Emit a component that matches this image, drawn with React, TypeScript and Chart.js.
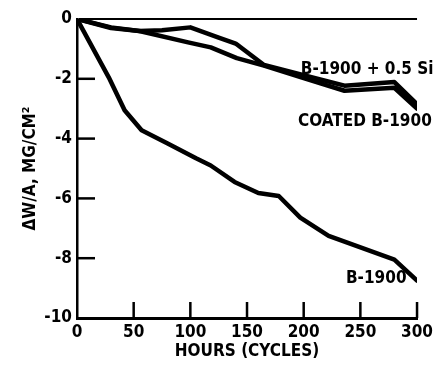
import React, { useEffect, useRef } from "react";
import { Chart, registerables } from "chart.js";

Chart.register(...registerables);

// Data (hours, delta W/A in mg/cm^2)
const siHours = [0, 30, 55, 75, 100, 125, 140, 165, 200, 236, 280, 300];
const siValues = [0, -0.28, -0.4, -0.38, -0.28, -0.62, -0.82, -1.54, -1.88, -2.23, -2.11, -2.85];

const coatedHours = [0, 30, 55, 98, 118, 141, 165, 200, 236, 280, 300];
const coatedValues = [0, -0.3, -0.4, -0.78, -0.95, -1.31, -1.56, -1.98, -2.4, -2.3, -3.0];

const baseHours = [0, 28, 42, 57, 80, 105, 118, 139, 160, 178, 197, 222, 280, 300];
const baseValues = [0, -1.95, -3.05, -3.72, -4.16, -4.66, -4.9, -5.45, -5.82, -5.92, -6.64, -7.25, -8.05, -8.75];

const xTicks = [0, 50, 100, 150, 200, 250, 300];
const yTicks = [0, -2, -4, -6, -8, -10];

const seriesNames = ["B-1900 + 0.5 Si", "COATED B-1900", "B-1900"];
const labelX = [256, 254, 264];
const labelY = [-1.68, -3.42, -8.69];

const FONT = "'Liberation Sans Narrow', 'DejaVu Sans Condensed', 'Arial Narrow', sans-serif";

const toPoints = (xs: number[], ys: number[]) => xs.map((x, i) => ({ x, y: ys[i] }));

const innerTicksPlugin = {
  id: "innerTicks",
  afterDraw(chart: any) {
    const { ctx, scales, chartArea } = chart;
    const xs = scales.x;
    const ys = scales.y;
    ctx.save();
    ctx.strokeStyle = "#000";
    ctx.lineWidth = 2.5;
    ctx.lineCap = "butt";
    yTicks.forEach((v) => {
      if (v === 0 || v === -10) return;
      const py = ys.getPixelForValue(v);
      ctx.beginPath();
      ctx.moveTo(chartArea.left, py);
      ctx.lineTo(chartArea.left + 18, py);
      ctx.stroke();
    });
    xTicks.forEach((v) => {
      if (v === 0) return;
      const px = xs.getPixelForValue(v);
      ctx.beginPath();
      ctx.moveTo(px, chartArea.bottom);
      ctx.lineTo(px, chartArea.bottom - 16);
      ctx.stroke();
    });
    // series labels, placed in data coordinates
    ctx.fillStyle = "#000";
    ctx.font = `bold 17px ${FONT}`;
    ctx.textAlign = "center";
    ctx.textBaseline = "middle";
    seriesNames.forEach((name, i) => {
      ctx.fillText(name, xs.getPixelForValue(labelX[i]), ys.getPixelForValue(labelY[i]));
    });
    ctx.restore();
  },
};

export default function App() {
  const ref = useRef<HTMLCanvasElement | null>(null);

  useEffect(() => {
    if (!ref.current) return;
    const lineStyle = {
      borderColor: "#000",
      borderWidth: 4.5,
      pointRadius: 0,
      fill: false,
      tension: 0,
      borderJoinStyle: "round" as const,
      borderCapStyle: "round" as const,
    };
    const chart = new Chart(ref.current, {
      type: "line",
      data: {
        datasets: [
          { label: seriesNames[0], data: toPoints(siHours, siValues), ...lineStyle },
          { label: seriesNames[1], data: toPoints(coatedHours, coatedValues), ...lineStyle },
          { label: seriesNames[2], data: toPoints(baseHours, baseValues), ...lineStyle },
        ],
      },
      options: {
        animation: false,
        responsive: false,
        maintainAspectRatio: false,
        layout: { padding: { left: 20, right: 14, top: 19, bottom: 0 } },
        plugins: { legend: { display: false }, tooltip: { enabled: false } },
        scales: {
          x: {
            type: "linear",
            min: 0,
            max: 300,
            afterBuildTicks: (s: any) => {
              s.ticks = xTicks.map((v) => ({ value: v }));
            },
            afterFit: (s: any) => {
              s.height = 54;
            },
            ticks: {
              color: "#000",
              font: { family: FONT, size: 17, weight: "bold" },
              padding: 4,
              maxRotation: 0,
              autoSkip: false,
            },
            grid: { display: false, drawTicks: false },
            border: { display: true, color: "#000", width: 3 },
            title: {
              display: true,
              text: "HOURS (CYCLES)",
              color: "#000",
              font: { family: FONT, size: 17, weight: "bold" },
              padding: { top: 0, bottom: 10 },
            },
          },
          y: {
            type: "linear",
            min: -10,
            max: 0,
            afterBuildTicks: (s: any) => {
              s.ticks = yTicks.map((v) => ({ value: v }));
            },
            afterFit: (s: any) => {
              s.width = 57;
            },
            ticks: {
              color: "#000",
              font: { family: FONT, size: 17, weight: "bold" },
              padding: 5,
              autoSkip: false,
            },
            grid: {
              drawTicks: false,
              color: (c: any) => (c.tick && c.tick.value === 0 ? "#000" : "rgba(0,0,0,0)"),
              lineWidth: 2,
            },
            border: { display: true, color: "#000", width: 2.5 },
            title: {
              display: true,
              text: "ΔW/A, MG/CM²",
              color: "#000",
              font: { family: FONT, size: 17, weight: "bold" },
              padding: { top: 0, bottom: 0 },
            },
          },
        },
      },
      plugins: [innerTicksPlugin],
    });
    return () => chart.destroy();
  }, []);

  return (
    <div style={{ position: "fixed", left: 0, top: 0, width: 437, height: 372, background: "#fff" }}>
      <canvas ref={ref} width={437} height={372} style={{ display: "block", width: 437, height: 372 }} />
    </div>
  );
}
